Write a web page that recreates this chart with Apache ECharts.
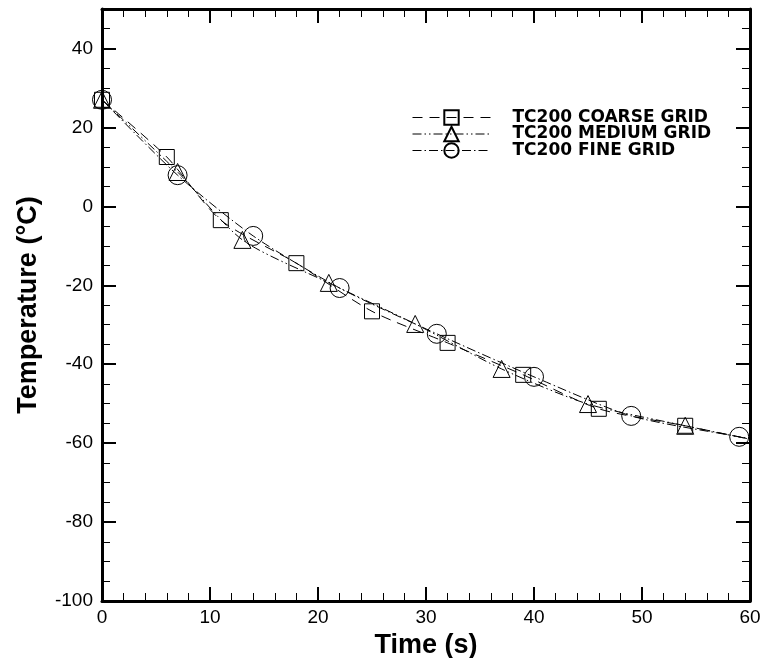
<!DOCTYPE html>
<html>
<head>
<meta charset="utf-8">
<script src="https://cdn.jsdelivr.net/npm/echarts@6/dist/echarts.min.js"></script>
<style>html,body{margin:0;padding:0;background:#fff}#c{width:765px;height:658px}</style>
</head>
<body>
<div id="c"></div>
<script>
// ---- data ----
const coarseName = 'TC200 COARSE GRID';
const mediumName = 'TC200 MEDIUM GRID';
const fineName = 'TC200 FINE GRID';

const coarseTime = [0, 6, 11, 18, 25, 32, 39, 46, 54, 60];
const coarseTemp = [27, 12.5, -3.5, -14.4, -26.6, -34.6, -42.7, -51.3, -55.6, -59];
const coarseMarked = [1, 1, 1, 1, 1, 1, 1, 1, 1, 0];

const mediumTime = [0, 7, 13, 21, 29, 37, 45, 54, 60];
const mediumTemp = [27, 8.7, -8.5, -19.4, -29.8, -41.2, -50.1, -55.6, -59];
const mediumMarked = [1, 1, 1, 1, 1, 1, 1, 1, 0];

const fineTime = [0, 7, 14, 22, 31, 40, 49, 59, 60];
const fineTemp = [27, 7.9, -7.5, -20.7, -32.3, -43.2, -53.1, -58.4, -58.8];
const fineMarked = [1, 1, 1, 1, 1, 1, 1, 1, 0];

const xTicks = [0, 10, 20, 30, 40, 50, 60];
const yTicks = [-100, -80, -60, -40, -20, 0, 20, 40];

function pts(t, v, m) {
  return t.map((x, i) => m[i] ? [x, v[i]] : { value: [x, v[i]], symbol: 'none' });
}

const chart = echarts.init(document.getElementById('c'), null, { renderer: 'canvas' });
const font = '"Liberation Sans", Arial, sans-serif';
const lineFull = { show: true, onZero: false, lineStyle: { color: '#000', width: 3 } };
const majorTick = { show: true, inside: true, length: 14, lineStyle: { color: '#000', width: 2 } };
const minorX = { show: true, splitNumber: 5, length: 8, lineStyle: { color: '#000', width: 1 } };
const minorY = { show: true, splitNumber: 4, length: 8, lineStyle: { color: '#000', width: 1 } };

const dashC = [10, 7];
const dashM = [9, 3, 1.5, 3, 1.5, 3];
const dashF = [9, 3, 1.5, 3];

function series(name, t, v, m, sym, size, dash) {
  return {
    name, type: 'line', data: pts(t, v, m), symbol: sym, symbolSize: size,
    smooth: 0.25, showAllSymbol: true, xAxisIndex: 0, yAxisIndex: 0,
    lineStyle: { color: '#000', width: 1, type: dash },
    itemStyle: { color: 'rgba(0,0,0,0)', borderColor: '#000', borderWidth: 1 },
    emphasis: { disabled: true }, z: 3
  };
}

const option = {
  animation: false,
  backgroundColor: '#fff',
  grid: { left: 102, right: 15, top: 9, bottom: 57, containLabel: false, outerBoundsMode: 'none' },
  legend: {
    orient: 'vertical', left: 412, top: 109, padding: 0, itemWidth: 78, itemHeight: 18, itemGap: -0.5,
    textStyle: { fontFamily: '"DejaVu Sans", sans-serif', fontWeight: 'bold', fontSize: 17, color: '#000', padding: [0, 0, 0, 17] },
    data: [
      { name: coarseName, lineStyle: { type: dashC, color: '#000', width: 1 } },
      { name: mediumName, lineStyle: { type: dashM, color: '#000', width: 1 } },
      { name: fineName, lineStyle: { type: dashF, color: '#000', width: 1 } }
    ]
  },
  xAxis: [
    {
      type: 'value', position: 'bottom', min: xTicks[0], max: xTicks[xTicks.length - 1], interval: 10,
      axisLine: lineFull, axisTick: majorTick, minorTick: minorX,
      splitLine: { show: false },
      axisLabel: { fontFamily: font, fontSize: 19, color: '#000', margin: 7 },
      name: 'Time (s)', nameLocation: 'middle', nameGap: 17,
      nameTextStyle: { fontFamily: font, fontWeight: 'bold', fontSize: 27, color: '#000' }
    },
    {
      type: 'value', position: 'top', min: 0, max: 60, interval: 10,
      axisLine: lineFull, axisTick: majorTick, minorTick: minorX,
      splitLine: { show: false }, axisLabel: { show: false }
    }
  ],
  yAxis: [
    {
      type: 'value', position: 'left', min: yTicks[0], max: 50, interval: 20,
      axisLine: lineFull, axisTick: majorTick, minorTick: minorY, splitLine: { show: false },
      axisLabel: { fontFamily: font, fontSize: 19, color: '#000', margin: 9, showMaxLabel: false,
        formatter: v => (yTicks.indexOf(v) >= 0 ? String(v) : '') },
      name: 'Temperature (°C)', nameLocation: 'middle', nameRotate: 90, nameGap: 60,
      nameTextStyle: { fontFamily: font, fontWeight: 'bold', fontSize: 27, color: '#000' }
    },
    {
      type: 'value', position: 'right', min: -100, max: 50, interval: 20,
      axisLine: lineFull, axisTick: majorTick, minorTick: minorY, splitLine: { show: false }, axisLabel: { show: false }
    }
  ],
  series: [
    series(coarseName, coarseTime, coarseTemp, coarseMarked, 'rect', 15, dashC),
    series(mediumName, mediumTime, mediumTemp, mediumMarked, 'triangle', 17, dashM),
    series(fineName, fineTime, fineTemp, fineMarked, 'circle', 19, dashF)
  ]
};
chart.setOption(option);
</script>
</body>
</html>
